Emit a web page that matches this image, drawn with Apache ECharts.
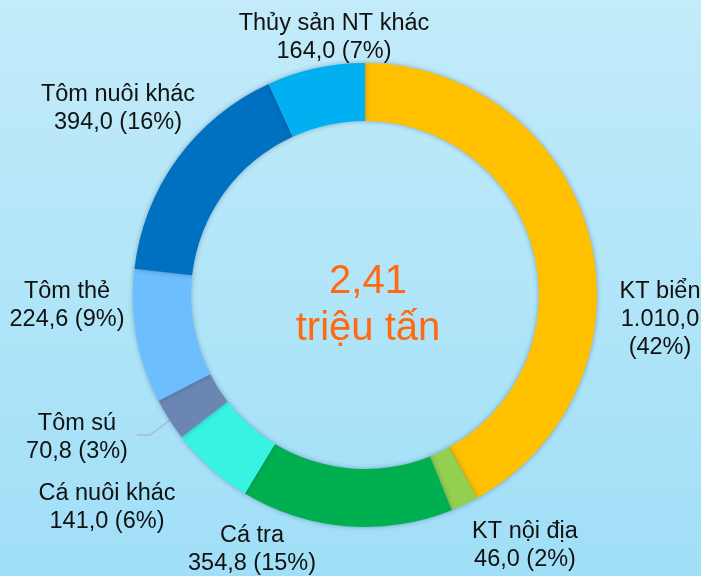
<!DOCTYPE html>
<html>
<head>
<meta charset="utf-8">
<script src="https://cdn.jsdelivr.net/npm/echarts@6/dist/echarts.min.js"></script>
<style>
html,body{margin:0;padding:0;}
#chart{width:701px;height:576px;}
</style>
</head>
<body>
<div id="chart"></div>
<script>
const categories = ['KT biển','KT nội địa','Cá tra','Cá nuôi khác','Tôm sú','Tôm thẻ','Tôm nuôi khác','Thủy sản NT khác'];
const values = [1010.0, 46.0, 354.8, 141.0, 70.8, 224.6, 394.0, 164.0];
const valueLabels = ['1.010,0','46,0','354,8','141,0','70,8','224,6','394,0','164,0'];
const percentLabels = ['42%','2%','15%','6%','3%','9%','16%','7%'];
const totalLabel = ['2,41', 'triệu tấn'];

const colors = ['#FFC000','#92D050','#00B050','#38F2E2','#6B86B2','#6CBEFE','#0070C0','#00B0F0'];
// label block centres (layout only)
const labelPos = [[660,320],[525,546],[252,550],[107,508],[77,438],[67,306],[118,109],[334,38]];

const chart = echarts.init(document.getElementById('chart'));
chart.setOption({
  backgroundColor: {type:'linear', x:0, y:0, x2:0, y2:1, colorStops:[{offset:0,color:'#C3EBFA'},{offset:1,color:'#A0DFF7'}]},
  animation:false,
  title: {
    text: totalLabel.join('\n'),
    left: 363, top: 300, textAlign:'center', textVerticalAlign:'middle',
    textStyle:{color:'#FF6A10', fontSize:40, fontWeight:'normal', fontFamily:'Liberation Sans', lineHeight:47}
  },
  series: [{
    type:'pie',
    center:[365,295],
    radius:[174,232],
    startAngle:90,
    clockwise:true,
    itemStyle:{shadowBlur:5, shadowColor:'rgba(0,40,80,0.35)'},
    label:{
      show:true,
      color:'#111',
      fontFamily:'Liberation Sans',
      fontSize:23.5,
      lineHeight:28,
      align:'center',
      overflow:'none',
      formatter: p => {
        const i = p.dataIndex;
        if (i === 0) return categories[i] + '\n' + valueLabels[i] + '\n(' + percentLabels[i] + ')';
        return categories[i] + '\n' + valueLabels[i] + ' (' + percentLabels[i] + ')';
      }
    },
    labelLine:{show:true, lineStyle:{color:'#AEB3E2', width:1.5}},
    labelLayout: p => {
      const i = p.dataIndex;
      const r = {x: labelPos[i][0], y: labelPos[i][1], align:'center', verticalAlign:'middle'};
      if (i === 4) {
        r.labelLinePoints = [[193,403],[150,435],[137,435]];
      }
      return r;
    },
    data: categories.map((c,i)=>({name:c, value:values[i], itemStyle:{color:colors[i]}, labelLine:{show:i===4}}))
  }]
});
</script>
</body>
</html>
